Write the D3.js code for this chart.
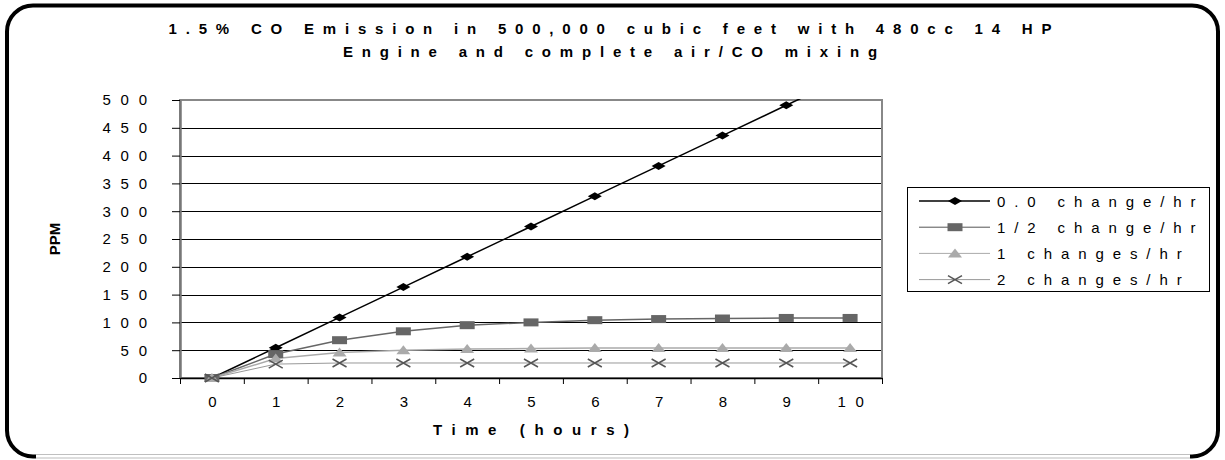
<!DOCTYPE html>
<html>
<head>
<meta charset="utf-8">
<script src="https://cdn.jsdelivr.net/npm/d3@7"></script>
<style>
  body { margin: 0; background: #fff; }
  svg { display: block; font-family: "Liberation Sans", Arial, sans-serif; }
</style>
</head>
<body>
<div id="chart"></div>
<script>
const ctx = {
    w: 1225,
    h: 460,
    left: 180,
    right: 882,
    top: 100,
    bottom: 378
};

// data
const hours = [0, 1, 2, 3, 4, 5, 6, 7, 8, 9, 10];
const seriesNames = ["0.0 change/hr", "1/2 change/hr", "1 changes/hr", "2 changes/hr"];
const noChange = [0, 54.5, 109, 163.5, 218, 272.5, 327, 381.5, 436, 490.5, 545];
const halfChange = [0, 43, 68, 84, 95, 100, 104, 106, 107, 108, 108];
const oneChange = [0, 35, 46, 50, 52, 53, 54, 54, 54, 54, 54];
const twoChanges = [0, 25, 27, 27, 27, 27, 27, 27, 27, 27, 27];
const yTicks = [0, 50, 100, 150, 200, 250, 300, 350, 400, 450, 500];
const titleLines = ["1.5% CO Emission in 500,000 cubic feet with 480cc 14 HP",
                    "Engine and complete air/CO mixing"];

const styles = [
    {line: "#000", lw: 1.5, marker: "diamond", fill: "#000", stroke: "none"},
    {line: "#666", lw: 1.5, marker: "square", fill: "#666", stroke: "none"},
    {line: "#aaa", lw: 1.5, marker: "triangle", fill: "#aaa", stroke: "none"},
    {line: "#999", lw: 1, marker: "cross", fill: "none", stroke: "#555"}
];

// markers are wider than tall, like the stretched original
function markerPath(kind) {
    const w = 7, h = 4;
    switch (kind) {
        case "diamond": return `M${-w},0L0,${-h}L${w},0L0,${h}Z`;
        case "square": return `M${-7.5},${-h}H7.5V${h}H-7.5Z`;
        case "triangle": return `M${-w},${h}L0,${-h - 1}L${w},${h}Z`;
        default: return `M${-w},${-h}L${w},${h}M${-w},${h}L${w},${-h}`;
    }
}

function createViz() {
    const svg = d3.select("#chart").append("svg")
        .attr("width", ctx.w)
        .attr("height", ctx.h);

    // outer rounded frame
    svg.append("rect")
        .attr("x", 7).attr("y", 5.5)
        .attr("width", 1211).attr("height", 451)
        .attr("rx", 26).attr("ry", 26)
        .attr("fill", "#fff")
        .attr("stroke", "#000")
        .attr("stroke-width", 4);
    svg.append("line")
        .attr("x1", 36).attr("x2", 1190)
        .attr("y1", 457).attr("y2", 457)
        .attr("stroke", "#fff").attr("stroke-width", 5);
    svg.append("line")
        .attr("x1", 36).attr("x2", 1190)
        .attr("y1", 458).attr("y2", 458)
        .attr("stroke", "#bbb").attr("stroke-width", 1);

    // title
    const ls = 8.8;
    svg.append("g").selectAll("text")
        .data(titleLines)
        .join("text")
        .attr("x", 610 + ls / 2)
        .attr("y", (d, i) => 34 + i * 23)
        .attr("text-anchor", "middle")
        .style("font-size", "15px")
        .style("font-weight", "bold")
        .style("letter-spacing", ls + "px")
        .text(d => d);

    const x = d3.scaleLinear()
        .domain([-0.5, 10.5])
        .range([ctx.left, ctx.right]);
    const y = d3.scaleLinear()
        .domain([0, 500])
        .range([ctx.bottom, ctx.top]);

    // gridlines
    svg.append("g").selectAll("line")
        .data(yTicks.slice(1))
        .join("line")
        .attr("x1", ctx.left).attr("x2", ctx.right)
        .attr("y1", d => Math.round(y(d)) + 0.5)
        .attr("y2", d => Math.round(y(d)) + 0.5)
        .attr("stroke", "#000")
        .attr("stroke-width", 1);

    // plot border
    svg.append("rect")
        .attr("x", ctx.left).attr("y", ctx.top)
        .attr("width", ctx.right - ctx.left).attr("height", ctx.bottom - ctx.top)
        .attr("fill", "none")
        .attr("stroke", "#888")
        .attr("stroke-width", 2);

    // Y axis
    const tickLs = 9.7;
    const yAxis = svg.append("g")
        .attr("transform", `translate(${ctx.left},0)`)
        .call(d3.axisLeft(y).tickValues(yTicks).tickSize(8).tickPadding(25 - tickLs).tickSizeOuter(0));
    yAxis.select(".domain").attr("stroke", "#777").attr("stroke-width", 2.5);
    yAxis.selectAll(".tick line").attr("stroke", "#000");
    yAxis.selectAll("text")
        .style("font-size", "15px")
        .style("font-family", "Liberation Sans, Arial, sans-serif")
        .style("letter-spacing", tickLs + "px")
        .attr("fill", "#000");

    // X axis: labels at hours, tick marks between categories
    const xAxis = svg.append("g")
        .attr("transform", `translate(0,${ctx.bottom})`)
        .call(d3.axisBottom(x).tickValues(hours).tickSize(0).tickPadding(18));
    xAxis.select(".domain").attr("stroke", "#000").attr("stroke-width", 1.5);
    xAxis.selectAll("text")
        .attr("dx", tickLs / 2)
        .style("font-size", "15px")
        .style("font-family", "Liberation Sans, Arial, sans-serif")
        .style("letter-spacing", tickLs + "px")
        .attr("fill", "#000");
    const xTicks = svg.append("g")
        .attr("transform", `translate(0,${ctx.bottom})`)
        .call(d3.axisBottom(x).tickValues(hours.concat([11]).map(d => d - 0.5)).tickFormat("").tickSize(6).tickSizeOuter(0));
    xTicks.select(".domain").remove();
    xTicks.selectAll(".tick line").attr("stroke", "#000");

    // axis titles
    const labLs = 9.6;
    svg.append("text")
        .attr("x", (ctx.left + ctx.right) / 2 + labLs / 2)
        .attr("y", 435)
        .attr("text-anchor", "middle")
        .style("font-size", "15px")
        .style("font-weight", "bold")
        .style("letter-spacing", labLs + "px")
        .text("Time (hours)");
    svg.append("text")
        .attr("transform", "translate(60,239) rotate(-90)")
        .attr("text-anchor", "middle")
        .style("font-size", "15px")
        .style("font-weight", "bold")
        .text("PPM");

    // series
    svg.append("clipPath").attr("id", "plot-clip")
        .append("rect")
        .attr("x", ctx.left).attr("y", ctx.top - 1)
        .attr("width", ctx.right - ctx.left).attr("height", ctx.bottom - ctx.top + 10);

    const allSeries = [noChange, halfChange, oneChange, twoChanges];
    const line = d3.line()
        .x((d, i) => x(hours[i]))
        .y(d => y(d));

    const plot = svg.append("g").attr("clip-path", "url(#plot-clip)");
    allSeries.forEach((vals, s) => {
        const st = styles[s];
        plot.append("path")
            .datum(vals)
            .attr("fill", "none")
            .attr("stroke", st.line)
            .attr("stroke-width", st.lw)
            .attr("d", line);
    });
    allSeries.forEach((vals, s) => {
        const st = styles[s];
        plot.append("g").selectAll("path")
            .data(vals)
            .join("path")
            .attr("transform", (d, i) => `translate(${x(hours[i])},${y(d)})`)
            .attr("d", markerPath(st.marker))
            .attr("fill", st.fill)
            .attr("stroke", st.stroke)
            .attr("stroke-width", 1.5);
    });

    // legend
    const legend = svg.append("g");
    legend.append("rect")
        .attr("x", 907.5).attr("y", 187.5)
        .attr("width", 302).attr("height", 104)
        .attr("fill", "#fff")
        .attr("stroke", "#000")
        .attr("stroke-width", 1);
    const legendLine = ["#000", "#555", "#aaa", "#999"];
    const rows = legend.selectAll("g.row")
        .data(seriesNames)
        .join("g")
        .attr("class", "row")
        .attr("transform", (d, i) => `translate(0,${201 + i * 26.2})`);
    rows.append("line")
        .attr("x1", 919).attr("x2", 990)
        .attr("stroke", (d, i) => legendLine[i])
        .attr("stroke-width", (d, i) => i === 0 ? 1.5 : 1);
    rows.append("path")
        .attr("transform", "translate(955,0)")
        .attr("d", (d, i) => markerPath(styles[i].marker))
        .attr("fill", (d, i) => styles[i].fill)
        .attr("stroke", (d, i) => styles[i].stroke)
        .attr("stroke-width", 1.5);
    rows.append("text")
        .attr("x", 997)
        .attr("y", 5.5)
        .style("font-size", "15px")
        .style("letter-spacing", "8.9px")
        .text(d => d);
}

document.addEventListener("DOMContentLoaded", function () {
    createViz();
});
</script>
</body>
</html>
